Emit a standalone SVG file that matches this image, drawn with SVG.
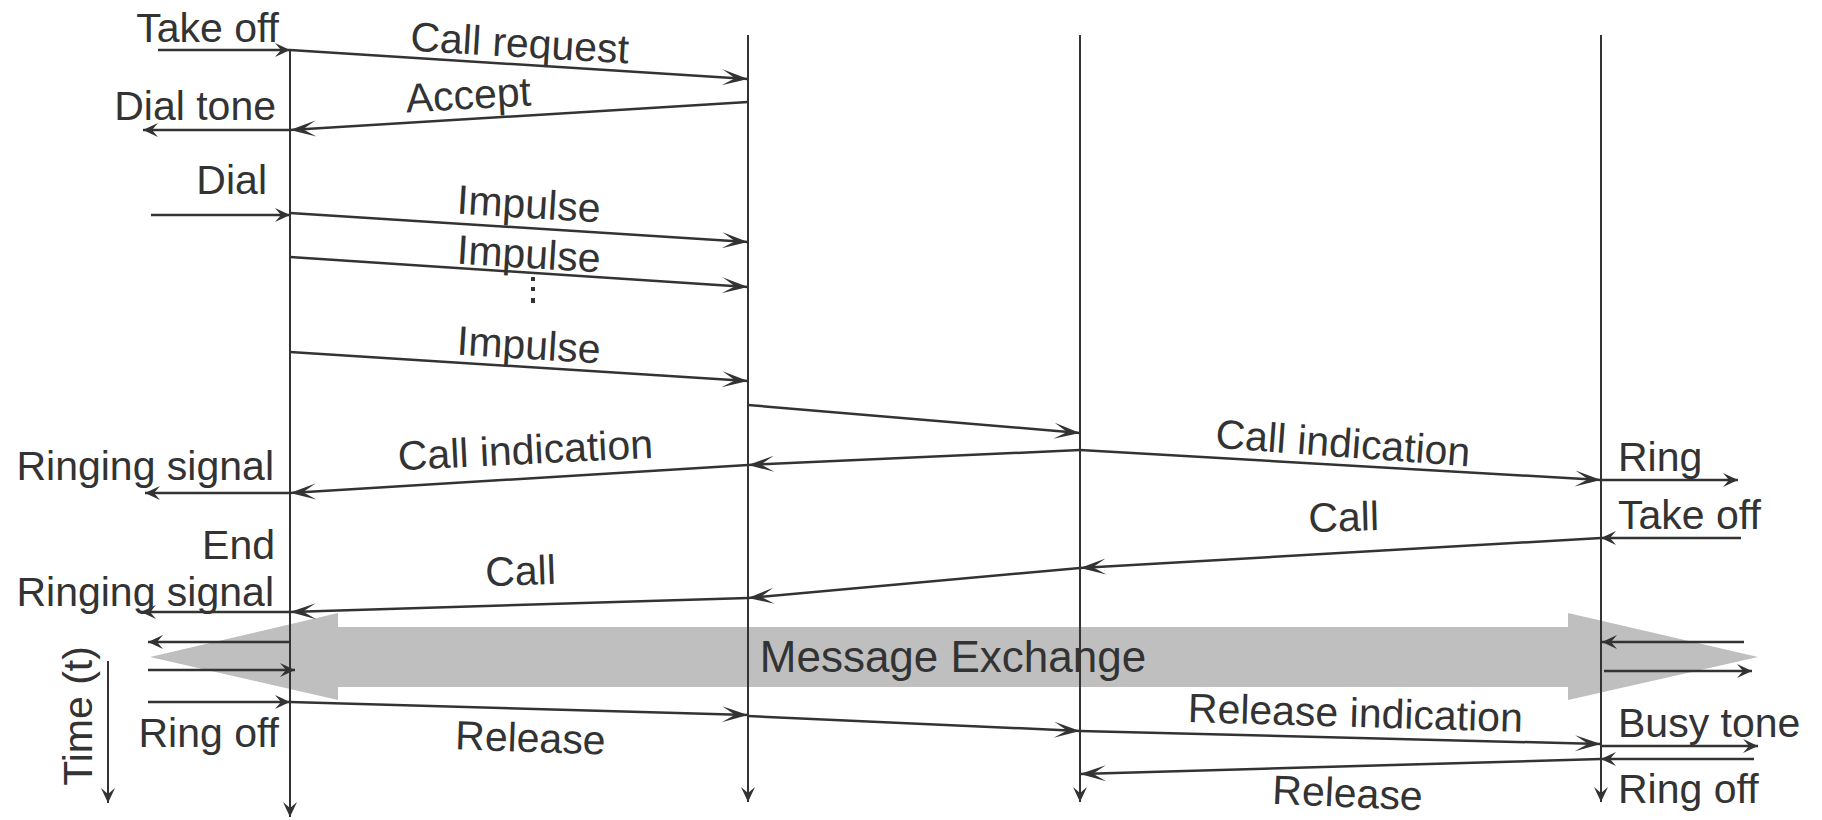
<svg xmlns="http://www.w3.org/2000/svg" width="1822" height="820" viewBox="0 0 1822 820">
<defs>
<style>
.t{font-family:"Liberation Sans",Arial,Helvetica,sans-serif;font-size:41px;fill:#333333}
.life{stroke:#333333;stroke-width:2;fill:none}
.msg{stroke:#333333;stroke-width:2.5;fill:none}
.big{marker-end:url(#ah)}
.sm{marker-end:url(#as)}
</style>
<marker id="ah" markerUnits="userSpaceOnUse" markerWidth="30" markerHeight="20" viewBox="-28 -10 30 20" refX="0" refY="0" orient="auto">
<path d="M0,0 L-26,-8 L-13,0 L-26,8 Z" fill="#333333"/>
</marker>
<marker id="as" markerUnits="userSpaceOnUse" markerWidth="20" markerHeight="18" viewBox="-18 -9 20 18" refX="0" refY="0" orient="auto">
<path d="M0,0 L-15,-7 L-9,0 L-15,7 Z" fill="#333333"/>
</marker>
</defs>
<rect width="1822" height="820" fill="#ffffff"/>

<g id="exchange">
<polygon points="150,657 338,613 338,627 1568,627 1568,613 1758,657 1568,700 1568,687 338,687 338,700" fill="#BFBFBF"/>
<text class="t" x="953" y="672" text-anchor="middle" style="font-size:44px">Message Exchange</text>
</g>

<g id="lifeline-caller">
<line class="life sm" x1="290" y1="50" x2="290" y2="817"/>
</g>
<g id="lifeline-exchange-a">
<line class="life sm" x1="748" y1="35" x2="748" y2="802"/>
</g>
<g id="lifeline-exchange-b">
<line class="life sm" x1="1080" y1="35" x2="1080" y2="802"/>
</g>
<g id="lifeline-callee">
<line class="life sm" x1="1601" y1="35" x2="1601" y2="802"/>
</g>

<g id="time-axis">
<line class="life sm" x1="108" y1="661" x2="108" y2="803"/>
<text class="t" x="92" y="716" text-anchor="middle" transform="rotate(-90 92 716)">Time (t)</text>
</g>

<g id="connectors">
<line class="msg sm" x1="158" y1="50" x2="290" y2="50"/>
<line class="msg big" x1="290" y1="50" x2="748" y2="79"/>
<line class="msg big" x1="748" y1="102" x2="290" y2="130"/>
<line class="msg sm" x1="290" y1="130" x2="143" y2="130"/>
<line class="msg sm" x1="151" y1="215" x2="290" y2="215"/>
<line class="msg big" x1="290" y1="213" x2="748" y2="242"/>
<line class="msg big" x1="290" y1="257" x2="748" y2="287"/>
<line class="msg big" x1="290" y1="352" x2="748" y2="381"/>
<line class="msg big" x1="748" y1="405" x2="1080" y2="433"/>
<line class="msg big" x1="1080" y1="450" x2="748" y2="465"/>
<line class="msg big" x1="748" y1="465" x2="290" y2="493"/>
<line class="msg sm" x1="290" y1="493" x2="145" y2="493"/>
<line class="msg big" x1="1080" y1="450" x2="1601" y2="480"/>
<line class="msg sm" x1="1601" y1="480" x2="1738" y2="480"/>
<line class="msg sm" x1="1741" y1="538" x2="1601" y2="538"/>
<line class="msg big" x1="1601" y1="538" x2="1080" y2="568"/>
<line class="msg big" x1="1080" y1="568" x2="748" y2="598"/>
<line class="msg big" x1="748" y1="598" x2="290" y2="612"/>
<line class="msg sm" x1="290" y1="612" x2="141" y2="612"/>
<line class="msg sm" x1="289" y1="642" x2="148" y2="642"/>
<line class="msg sm" x1="148" y1="670" x2="295" y2="670"/>
<line class="msg sm" x1="1744" y1="642" x2="1602" y2="642"/>
<line class="msg sm" x1="1604" y1="671" x2="1752" y2="671"/>
<line class="msg sm" x1="148" y1="702" x2="290" y2="702"/>
<line class="msg big" x1="290" y1="702" x2="748" y2="715"/>
<line class="msg big" x1="748" y1="716" x2="1080" y2="731"/>
<line class="msg big" x1="1080" y1="731" x2="1601" y2="744"/>
<line class="msg sm" x1="1601" y1="746" x2="1758" y2="746"/>
<line class="msg sm" x1="1754" y1="759" x2="1601" y2="759"/>
<line class="msg big" x1="1601" y1="759" x2="1080" y2="774"/>
<g fill="#333333">
<rect x="531" y="277" width="4" height="4"/>
<rect x="531" y="287" width="4" height="4"/>
<rect x="531" y="298" width="4" height="5"/>
</g>
</g>

<g id="labels">
<text class="t" x="279" y="42" text-anchor="end">Take off</text>
<text class="t" x="276" y="120" text-anchor="end">Dial tone</text>
<text class="t" x="267" y="194" text-anchor="end">Dial</text>
<text class="t" x="274" y="480" text-anchor="end">Ringing signal</text>
<text class="t" x="275" y="559" text-anchor="end">End</text>
<text class="t" x="274" y="606" text-anchor="end">Ringing signal</text>
<text class="t" x="279" y="747" text-anchor="end">Ring off</text>

<text class="t" x="1618" y="471">Ring</text>
<text class="t" x="1618" y="529">Take off</text>
<text class="t" x="1618" y="737">Busy tone</text>
<text class="t" x="1618" y="803">Ring off</text>

<text class="t" x="519" y="57" text-anchor="middle" transform="rotate(3.4 519 57)">Call request</text>
<text class="t" x="469" y="109" text-anchor="middle" transform="rotate(-3.3 469 109)">Accept</text>
<text class="t" x="528" y="218" text-anchor="middle" transform="rotate(3.5 528 218)">Impulse</text>
<text class="t" x="528" y="268" text-anchor="middle" transform="rotate(3.5 528 268)">Impulse</text>
<text class="t" x="528" y="359" text-anchor="middle" transform="rotate(3.5 528 359)">Impulse</text>
<text class="t" x="526" y="464" text-anchor="middle" transform="rotate(-2.8 526 464)">Call indication</text>
<text class="t" x="1342" y="457" text-anchor="middle" transform="rotate(4.2 1342 457)">Call indication</text>
<text class="t" x="1344" y="531" text-anchor="middle" transform="rotate(-1.5 1344 531)">Call</text>
<text class="t" x="521" y="585" text-anchor="middle" transform="rotate(-2 521 585)">Call</text>
<text class="t" x="530" y="752" text-anchor="middle" transform="rotate(2 530 752)">Release</text>
<text class="t" x="1355" y="727" text-anchor="middle" transform="rotate(1.7 1355 727)">Release indication</text>
<text class="t" x="1347" y="807" text-anchor="middle" transform="rotate(2.5 1347 807)">Release</text>
</g>
</svg>
